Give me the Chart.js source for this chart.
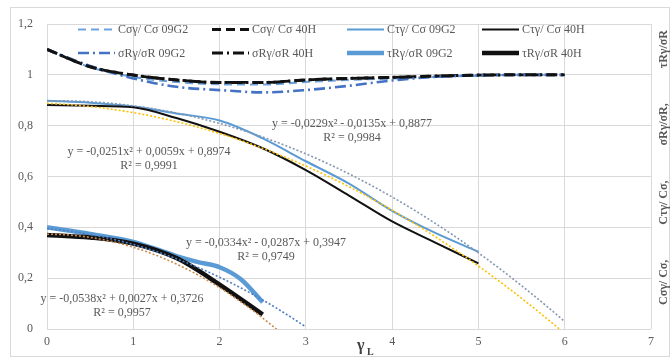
<!DOCTYPE html>
<html>
<head>
<meta charset="utf-8">
<script src="https://cdn.jsdelivr.net/npm/chart.js@4/dist/chart.umd.min.js"></script>
<style>
  html, body { margin: 0; padding: 0; background: #fff; }
  #wrap { width: 672px; height: 358px; }
</style>
</head>
<body>
<div id="wrap"><canvas id="c" width="672" height="358"></canvas></div>
<script>
// ---- data: relative coefficients vs. γL ----
const gammaSigma = [0, 0.5, 1, 1.5, 2, 2.5, 3, 3.5, 4, 4.5, 5, 5.5, 6];
const cSigma09G2 = [1.10, 1.030, 0.992, 0.972, 0.963, 0.962, 0.972, 0.980, 0.986, 0.992, 0.997, 1.0, 1.0];
const cSigma40H  = [1.10, 1.032, 0.999, 0.980, 0.970, 0.970, 0.980, 0.986, 0.990, 0.995, 0.999, 1.0, 1.0];
const sigmaR09G2 = [1.10, 1.035, 0.986, 0.953, 0.940, 0.931, 0.940, 0.957, 0.978, 0.992, 0.998, 1.0, 1.0];
const sigmaR40H  = [1.10, 1.032, 0.999, 0.980, 0.970, 0.970, 0.980, 0.986, 0.990, 0.995, 0.999, 1.0, 1.0];

const gammaTau = [0, 0.5, 1, 1.5, 2, 2.5, 3, 3.5, 4, 4.5, 5];
const cTau09G2 = [0.898, 0.890, 0.875, 0.848, 0.820, 0.750, 0.660, 0.572, 0.465, 0.378, 0.304];
const cTau40H  = [0.881, 0.878, 0.872, 0.830, 0.776, 0.711, 0.625, 0.525, 0.423, 0.340, 0.258];

const gammaTauR09G2 = [0, 0.5, 1, 1.5, 1.75, 2, 2.25, 2.5];
const tauR09G2      = [0.400, 0.374, 0.343, 0.287, 0.263, 0.243, 0.195, 0.105];
const gammaTauR40H  = [0, 0.5, 1, 1.5, 2, 2.5];
const tauR40H       = [0.370, 0.360, 0.336, 0.279, 0.175, 0.057];

// polynomial trendlines: [a, b, c] for y = a·x² + b·x + c, with R²
const trendCTau09G2 = [-0.0251, 0.0059, 0.8974];  const r2CTau09G2 = 0.9991;
const trendCTau40H  = [-0.0229, -0.0135, 0.8877]; const r2CTau40H  = 0.9984;
const trendTauR09G2 = [-0.0334, -0.0287, 0.3947]; const r2TauR09G2 = 0.9749;
const trendTauR40H  = [-0.0538, 0.0027, 0.3726];  const r2TauR40H  = 0.9957;

const xTickLabels = ['0', '1', '2', '3', '4', '5', '6', '7'];
const yTickLabels = ['0', '0,2', '0,4', '0,6', '0,8', '1', '1,2'];

const seriesLabels = [
  'Cσγ/ Cσ 09G2', 'Cσγ/ Cσ 40H', 'Cτγ/ Cσ 09G2', 'Cτγ/ Cσ 40H',
  'σRγ/σR 09G2', 'σRγ/σR 40H', 'τRγ/σR 09G2', 'τRγ/σR 40H'
];
const axisTitleSegments = ['Cσγ/ Cσ,', 'Cτγ/ Cσ,', 'σRγ/σR,', 'τRγ/σR'];

// ---- helpers ----
const pts = (xs, ys) => xs.map((x, i) => ({ x, y: ys[i] }));
function trendPoints(coef, xEnd) {
  const out = [];
  for (let i = 0; i <= Math.round(xEnd * 20); i++) {
    const x = i / 20;
    out.push({ x, y: coef[0] * x * x + coef[1] * x + coef[2] });
  }
  return out;
}
const num = v => String(Math.abs(v)).replace('.', ',');
function trendText(c) {
  const s = v => (v < 0 ? '-' : '+');
  return 'y = ' + (c[0] < 0 ? '-' : '') + num(c[0]) + 'x² ' + s(c[1]) + ' ' + num(c[1]) + 'x ' + s(c[2]) + ' ' + num(c[2]);
}
const r2Text = r => 'R² = ' + num(r);

const LIGHT = '#5b9bd5', DARK_BLUE = '#4472c4', BLACK = '#111111';
const SERIF = '"Liberation Serif", "Times New Roman", serif';
const TXT = '#595959';

function series(label, data, color, width, dash) {
  return { label, data, borderColor: color, backgroundColor: color, borderWidth: width,
           borderDash: dash || [], showLine: true, pointRadius: 0, pointHoverRadius: 0,
           cubicInterpolationMode: 'monotone', fill: false };
}
function trend(data, color) {
  return { label: '', data, borderColor: color, borderWidth: 1.6, borderDash: [2, 2],
           showLine: true, pointRadius: 0, tension: 0, fill: false, isTrend: true };
}

const datasets = [
  series(seriesLabels[0], pts(gammaSigma, cSigma09G2), '#6fa3dc', 2.2, [8, 5]),
  series(seriesLabels[1], pts(gammaSigma, cSigma40H), BLACK, 2.8, [9, 5]),
  series(seriesLabels[2], pts(gammaTau, cTau09G2), LIGHT, 2, []),
  series(seriesLabels[3], pts(gammaTau, cTau40H), BLACK, 2, []),
  series(seriesLabels[4], pts(gammaSigma, sigmaR09G2), DARK_BLUE, 2.6, [11, 4, 2, 4]),
  series(seriesLabels[5], pts(gammaSigma, sigmaR40H), BLACK, 3, [11, 4, 2, 4]),
  series(seriesLabels[6], pts(gammaTauR09G2, tauR09G2), LIGHT, 4.5, []),
  series(seriesLabels[7], pts(gammaTauR40H, tauR40H), BLACK, 4.5, []),
  trend(trendPoints(trendCTau09G2, 6), '#8497b0'),
  trend(trendPoints(trendCTau40H, 6), '#ffc000'),
  trend(trendPoints(trendTauR09G2, 3), '#4e7fc4'),
  trend(trendPoints(trendTauR40H, 3), '#c98a4b')
];
// later series drawn above earlier ones
datasets.forEach((d, i) => { d.order = datasets.length - i; });

// ---- decorations: frame, legend, trend labels, axis titles ----
const decor = {
  id: 'decor',
  beforeDraw(chart) {
    const ctx = chart.ctx;
    ctx.save();
    ctx.fillStyle = '#fff';
    ctx.fillRect(0, 0, chart.width, chart.height);
    ctx.strokeStyle = '#d9d9d9';
    ctx.lineWidth = 1;
    ctx.strokeRect(10.5, 7.5, 659, 349);
    ctx.restore();
  },
  afterDraw(chart) {
    const ctx = chart.ctx;
    ctx.save();
    // legend (two rows × four columns inside the plot)
    const colX = [78, 212, 347, 482], rowY = [29.5, 53], lineLen = 37;
    ctx.font = '12px ' + SERIF;
    ctx.textBaseline = 'middle';
    ctx.textAlign = 'left';
    for (let i = 0; i < 8; i++) {
      const ds = chart.data.datasets[i];
      const x = colX[i % 4], y = rowY[Math.floor(i / 4)];
      ctx.strokeStyle = ds.borderColor;
      ctx.lineWidth = ds.borderWidth;
      ctx.setLineDash(ds.borderDash);
      ctx.beginPath();
      ctx.moveTo(x, y);
      ctx.lineTo(x + lineLen, y);
      ctx.stroke();
      ctx.setLineDash([]);
      ctx.fillStyle = TXT;
      ctx.fillText(ds.label, x + lineLen + 3, y + 0.5);
    }
    // trendline equations
    ctx.textAlign = 'center';
    const eq = [
      [trendCTau09G2, r2CTau09G2, 149, 152],
      [trendCTau40H, r2CTau40H, 352, 124],
      [trendTauR09G2, r2TauR09G2, 266, 243],
      [trendTauR40H, r2TauR40H, 122, 299]
    ];
    for (const [c, r, x, y] of eq) {
      ctx.fillText(trendText(c), x, y);
      ctx.fillText(r2Text(r), x, y + 13.5);
    }
    // horizontal axis title γL
    ctx.fillStyle = '#404040';
    ctx.textAlign = 'left';
    ctx.textBaseline = 'alphabetic';
    ctx.font = 'bold 16px ' + SERIF;
    ctx.fillText('γ', 357, 350);
    ctx.font = 'bold 10px ' + SERIF;
    ctx.fillText('L', 367, 355);
    // vertical axis title on the right, reading upwards
    ctx.font = 'bold 12px ' + SERIF;
    ctx.fillStyle = TXT;
    const widths = axisTitleSegments.map(s => ctx.measureText(s).width);
    const span = 275;
    const gap = (span - widths.reduce((a, b) => a + b, 0)) / (axisTitleSegments.length - 1);
    ctx.translate(664, 305);
    ctx.rotate(-Math.PI / 2);
    ctx.textBaseline = 'middle';
    let pos = 0;
    axisTitleSegments.forEach((s, i) => { ctx.fillText(s, pos, 0); pos += widths[i] + gap; });
    ctx.restore();
  }
};

new Chart(document.getElementById('c'), {
  type: 'scatter',
  data: { datasets },
  options: {
    responsive: false,
    animation: false,
    devicePixelRatio: 1,
    layout: { padding: { left: 0, top: 24, right: 21, bottom: 0 } },
    plugins: { legend: { display: false }, tooltip: { enabled: false } },
    scales: {
      x: {
        type: 'linear', min: 0, max: 7,
        grid: { color: '#d9d9d9', lineWidth: 1, drawTicks: false },
        border: { display: false },
        ticks: { stepSize: 1, padding: 6, color: TXT, font: { family: SERIF, size: 12 },
                 callback: (v, i) => xTickLabels[i] },
        afterFit: s => { s.height = 29; }
      },
      y: {
        type: 'linear', min: 0, max: 1.2,
        grid: { color: '#d9d9d9', lineWidth: 1, drawTicks: false },
        border: { display: false },
        ticks: { stepSize: 0.2, padding: 14, color: TXT, font: { family: SERIF, size: 12 },
                 callback: (v, i) => yTickLabels[i] },
        afterFit: s => { s.width = 47; }
      }
    }
  },
  plugins: [decor]
});
</script>
</body>
</html>
